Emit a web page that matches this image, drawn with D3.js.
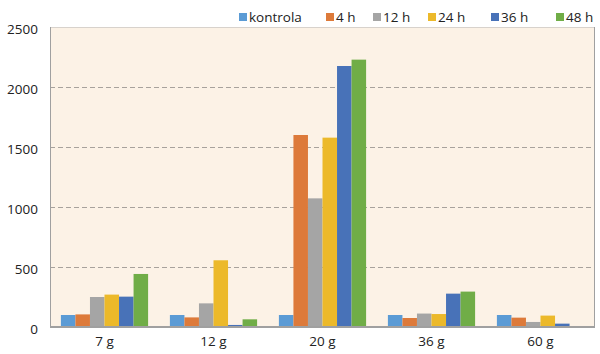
<!DOCTYPE html>
<html>
<head>
<meta charset="utf-8">
<script src="https://cdn.jsdelivr.net/npm/d3@7"></script>
<style>
  body { margin: 0; background: #fff; }
  text { font-family: "Open Sans", "Noto Sans", sans-serif; fill: #222; }
</style>
</head>
<body>
<svg id="chart" width="600" height="354"></svg>
<script>
// categories and series
var groups = ['7 g', '12 g', '20 g', '36 g', '60 g'];
var seriesNames = ['kontrola', '4 h', '12 h', '24 h', '36 h', '48 h'];
var seriesColors = ['#5b9bd5', '#dd7a3a', '#a5a5a5', '#ecb92a', '#4872b8', '#70ad47'];

var kontrola = [100, 100, 100, 100, 100];
var h4       = [105, 80, 1600, 75, 78];
var h12      = [250, 197, 1072, 112, 42];
var h24      = [270, 556, 1578, 108, 95];
var h36      = [253, 17, 2175, 278, 28];
var h48      = [442, 64, 2228, 295, 2];

var yTicks = [0, 500, 1000, 1500, 2000, 2500];

var values = [kontrola, h4, h12, h24, h36, h48];

var margin = { top: 27, right: 5, bottom: 27, left: 50 };
var width = 600 - margin.left - margin.right;
var height = 354 - margin.top - margin.bottom;

var svg = d3.select('#chart');
var g = svg.append('g')
  .attr('transform', 'translate(' + margin.left + ',' + margin.top + ')');

var x0 = d3.scaleBand().domain(groups).range([0, width]).paddingInner(0.2).paddingOuter(0.1);
var x1 = d3.scaleBand().domain(seriesNames).range([0, x0.bandwidth()]);
var y = d3.scaleLinear().domain([0, 2500]).range([height, 0]);

// plot background
g.append('rect')
  .attr('width', width)
  .attr('height', height)
  .attr('fill', '#fcf2e6');

// dashed gridlines
g.selectAll('.grid')
  .data(yTicks.filter(function (d) { return d > 0 && d < 2500; }))
  .enter().append('line')
  .attr('class', 'grid')
  .attr('x1', 0).attr('x2', width)
  .attr('y1', function (d) { return y(d) + 0.5; })
  .attr('y2', function (d) { return y(d) + 0.5; })
  .attr('stroke', '#a8a29c')
  .attr('stroke-width', 1)
  .attr('stroke-dasharray', '5,3');

// bars
var gg = g.selectAll('.group')
  .data(groups)
  .enter().append('g')
  .attr('transform', function (d) { return 'translate(' + x0(d) + ',0)'; });

gg.selectAll('rect')
  .data(function (d, gi) {
    return seriesNames.map(function (s, si) {
      return { s: s, v: values[si][gi], c: seriesColors[si] };
    });
  })
  .enter().append('rect')
  .attr('x', function (d) { return x1(d.s); })
  .attr('width', x1.bandwidth())
  .attr('y', function (d) { return y(d.v); })
  .attr('height', function (d) { return height - y(d.v); })
  .attr('fill', function (d) { return d.c; });

// frame
g.append('line').attr('x1', 0).attr('x2', width).attr('y1', 0.5).attr('y2', 0.5)
  .attr('stroke', '#d8d2cc');
g.append('line').attr('x1', 0.5).attr('x2', 0.5).attr('y1', 0).attr('y2', height)
  .attr('stroke', '#a0a0a0');
g.append('line').attr('x1', width - 0.5).attr('x2', width - 0.5).attr('y1', 0).attr('y2', height)
  .attr('stroke', '#a0a0a0');
g.append('line').attr('x1', 0).attr('x2', width).attr('y1', height).attr('y2', height)
  .attr('stroke', '#a0a0a0').attr('stroke-width', 2);

// y tick labels
g.selectAll('.ylab')
  .data(yTicks)
  .enter().append('text')
  .attr('x', -12)
  .attr('y', function (d) { return y(d) + 2; })
  .attr('dy', '0.35em')
  .attr('text-anchor', 'end')
  .attr('font-size', 13.5)
  .text(function (d) { return d; });

// x labels
g.selectAll('.xlab')
  .data(groups)
  .enter().append('text')
  .attr('x', function (d) { return x0(d) + x0.bandwidth() / 2; })
  .attr('y', height + 19)
  .attr('text-anchor', 'middle')
  .attr('font-size', 13.5)
  .text(function (d) { return d; });

// legend
var legendX = [239, 326, 373, 428, 491, 556];
var lg = svg.selectAll('.legend')
  .data(seriesNames)
  .enter().append('g')
  .attr('transform', function (d, i) { return 'translate(' + legendX[i] + ',13)'; });

lg.append('rect')
  .attr('width', 8).attr('height', 8)
  .attr('y', 0)
  .attr('fill', function (d, i) { return seriesColors[i]; });

lg.append('text')
  .attr('x', 10)
  .attr('y', 4)
  .attr('dy', '0.35em')
  .attr('font-size', 13.5)
  .text(function (d) { return d; });
</script>
</body>
</html>
